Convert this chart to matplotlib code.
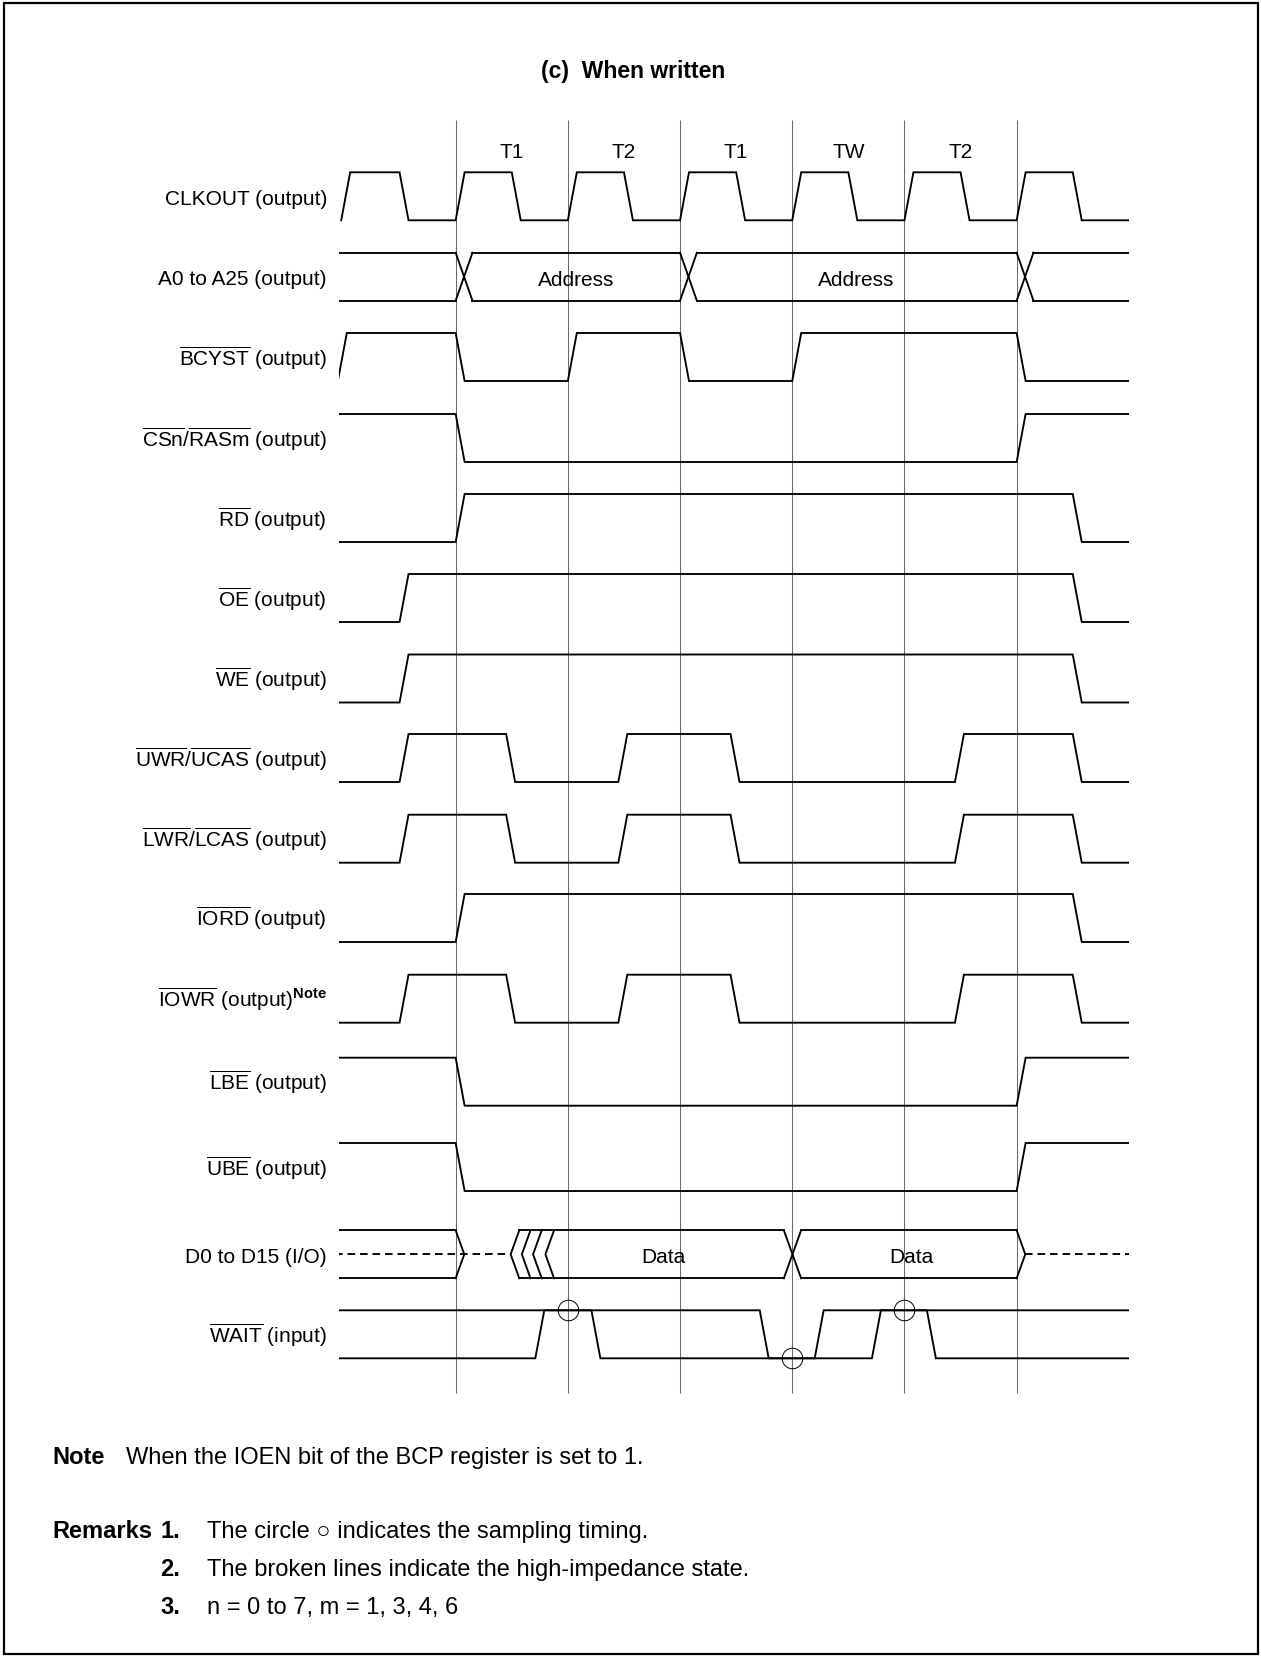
import numpy as np
import matplotlib
matplotlib.use('Agg')
import matplotlib.pyplot as plt
from matplotlib.patches import Rectangle

plt.rcParams['font.family'] = ['Liberation Sans', 'DejaVu Sans']
plt.rcParams['mathtext.fontset'] = 'custom'
plt.rcParams['mathtext.rm'] = 'Liberation Sans'
plt.rcParams['mathtext.it'] = 'Liberation Sans:italic'
plt.rcParams['mathtext.bf'] = 'Liberation Sans:bold'
plt.rcParams['lines.scale_dashes'] = False

# bus states above the clock periods
states = ['T1', 'T2', 'T1', 'TW', 'T2']

labels = ['CLKOUT (output)',
          'A0 to A25 (output)',
          r'$\overline{\mathrm{BCYST}}$ (output)',
          r'$\overline{\mathrm{CSn}}$/$\overline{\mathrm{RASm}}$ (output)',
          r'$\overline{\mathrm{RD}}$ (output)',
          r'$\overline{\mathrm{OE}}$ (output)',
          r'$\overline{\mathrm{WE}}$ (output)',
          r'$\overline{\mathrm{UWR}}$/$\overline{\mathrm{UCAS}}$ (output)',
          r'$\overline{\mathrm{LWR}}$/$\overline{\mathrm{LCAS}}$ (output)',
          r'$\overline{\mathrm{IORD}}$ (output)',
          r'$\overline{\mathrm{IOWR}}$ (output)$^{\mathbf{Note}}$',
          r'$\overline{\mathrm{LBE}}$ (output)',
          r'$\overline{\mathrm{UBE}}$ (output)',
          'D0 to D15 (I/O)',
          r'$\overline{\mathrm{WAIT}}$ (input)']

# edge start times (in clock periods)
clk_edges = [-1.02, -0.5, 0, 0.5, 1, 1.5, 2, 2.5, 3, 3.5, 4, 4.5, 5, 5.5]
bcyst_edges = [-1.05, 0, 1, 2, 3, 5]
cs_edges = [0, 5]
rd_edges = [0, 5.5]
oe_edges = [-0.5, 5.5]
we_edges = [-0.5, 5.5]
uwr_edges = [-0.5, 0.45, 1.45, 2.45, 4.45, 5.5]
lwr_edges = [-0.5, 0.45, 1.45, 2.45, 4.45, 5.5]
iord_edges = [0, 5.5]
iowr_edges = [-0.5, 0.45, 1.45, 2.45, 4.45, 5.5]
lbe_edges = [0, 5]
ube_edges = [0, 5]
wait_a_edges = [0.71, 1.21, 3.2, 4.2]
wait_b_edges = [2.71, 3.71]

addr_cross = [0, 2, 5]
addr_text_t = [1.07, 3.57]
data_close = [0.0, 5.0]
data_open = [0.49, 0.59, 0.69, 0.80]
data_cross = 2.925
data_text_t = [1.85, 4.06]
sample_t = [1, 3, 4]
sample_lv = [1, 0, 1]

# layout (pixels)
W, Hpx = 1261, 1658
row_top = [173.3, 253.7, 334, 415, 495, 575, 655.5, 735, 815.7, 895,
           975.7, 1058.7, 1144, 1231.3, 1311.3]
H = 48
E = 0.08
T0, T1 = -1.037, 6.004
LW = 1.35

fig = plt.figure(figsize=(W / 100, Hpx / 100), dpi=100)
ax = fig.add_axes([339.3 / W, 0, 790 / W, 1])
ax.set_xlim(T0, T1)
ax.set_ylim(Hpx, 0)
ax.axis('off')


def wave(init, edges, t0=-1.3, t1=6.3):
    ts, lv = [t0], [init]
    cur = init
    for e in edges:
        ts += [e, e + E]
        lv += [cur, 1 - cur]
        cur = 1 - cur
    ts.append(t1)
    lv.append(cur)
    return np.array(ts), np.array(lv)


def draw(row, init, edges, t0=-1.3):
    t, lv = wave(init, edges, t0)
    y = row_top[row] + (1 - lv) * H
    ax.plot(t, y, color='k', lw=LW, solid_joinstyle='miter')


# clock grid
ax.vlines(range(6), 121, 1394, colors='#6a6a6a', lw=0.75)
for i, s in enumerate(states):
    ax.text(i + 0.5, 157.5, s, ha='center', va='baseline', fontsize=15)

draw(0, 0, clk_edges, t0=-1.02)
draw(2, 0, bcyst_edges)
draw(3, 1, cs_edges)
draw(4, 0, rd_edges)
draw(5, 0, oe_edges)
draw(6, 0, we_edges)
draw(7, 0, uwr_edges)
draw(8, 0, lwr_edges)
draw(9, 0, iord_edges)
draw(10, 0, iowr_edges)
draw(11, 1, lbe_edges)
draw(12, 1, ube_edges)
draw(14, 0, wait_a_edges)
draw(14, 1, wait_b_edges)

# address bus
top, bot = row_top[1], row_top[1] + H
XW = 0.15
starts = [-1.3] + [c + XW for c in addr_cross]
ends = addr_cross + [6.3]
for s, e in zip(starts, ends):
    ax.plot([s, e], [top, top], color='k', lw=LW)
    ax.plot([s, e], [bot, bot], color='k', lw=LW)
for c in addr_cross:
    ax.plot([c, c + XW], [top, bot], color='k', lw=LW)
    ax.plot([c, c + XW], [bot, top], color='k', lw=LW)
for t in addr_text_t:
    ax.text(t, (top + bot) / 2 + 8, 'Address', ha='center', va='baseline', fontsize=15)

# data bus
top, bot = row_top[13], row_top[13] + H
mid = (top + bot) / 2
CW = 0.077
dash = dict(color='k', lw=LW, linestyle=(0, (5.5, 3.5)))
ax.plot([-1.3, data_close[0]], [top, top], color='k', lw=LW)
ax.plot([-1.3, data_close[0]], [bot, bot], color='k', lw=LW)
ax.plot([-1.3, data_open[0]], [mid, mid], **dash)
for c in data_close:
    ax.plot([c, c + CW, c], [top, mid, bot], color='k', lw=LW)
for tip in data_open:
    ax.plot([tip + CW, tip, tip + CW], [top, mid, bot], color='k', lw=LW)
ax.plot([data_open[0] + CW, data_cross], [top, top], color='k', lw=LW)
ax.plot([data_open[0] + CW, data_cross], [bot, bot], color='k', lw=LW)
ax.plot([data_cross, data_cross + 2 * CW], [top, bot], color='k', lw=LW)
ax.plot([data_cross, data_cross + 2 * CW], [bot, top], color='k', lw=LW)
ax.plot([data_cross + 2 * CW, data_close[1]], [top, top], color='k', lw=LW)
ax.plot([data_cross + 2 * CW, data_close[1]], [bot, bot], color='k', lw=LW)
ax.plot([data_close[1] + CW, 6.3], [mid, mid], **dash)
for t in data_text_t:
    ax.text(t, mid + 8, 'Data', ha='center', va='baseline', fontsize=15)

# sampling circles on WAIT
sy = [row_top[14] + (1 - lv) * H for lv in sample_lv]
ax.plot(sample_t, sy, 'o', mfc='none', mec='k', ms=14.8, mew=0.7)

# row labels
for i, lab in enumerate(labels):
    ax.text(-1.147, row_top[i] + H / 2 + 7.5, lab, ha='right', va='baseline',
            fontsize=15, clip_on=False)

# title and notes
fig.text(633 / W, 1 - 78 / Hpx, '(c)  When written', ha='center', va='baseline',
         fontsize=16.5, fontweight='bold')
NF = 17
fig.text(52.7 / W, 1 - 1464 / Hpx, 'Note', ha='left', va='baseline', fontsize=NF,
         fontweight='bold')
fig.text(126 / W, 1 - 1464 / Hpx, 'When the IOEN bit of the BCP register is set to 1.',
         ha='left', va='baseline', fontsize=NF)
fig.text(52.7 / W, 1 - 1538 / Hpx, 'Remarks', ha='left', va='baseline', fontsize=NF,
         fontweight='bold')
remarks = ['The circle \u25cb indicates the sampling timing.',
           'The broken lines indicate the high-impedance state.',
           'n = 0 to 7, m = 1, 3, 4, 6']
for k, r in enumerate(remarks):
    y = 1 - (1538 + 38 * k) / Hpx
    fig.text(160 / W, y, f'{k + 1}.', ha='left', va='baseline', fontsize=NF,
             fontweight='bold')
    fig.text(206.7 / W, y, r, ha='left', va='baseline', fontsize=NF)

fig.patches.append(Rectangle((4 / W, 3 / Hpx), 1254 / W, 1651 / Hpx,
                             transform=fig.transFigure, fill=False, lw=1.6, ec='k'))

fig.savefig('out.png', dpi=100)
